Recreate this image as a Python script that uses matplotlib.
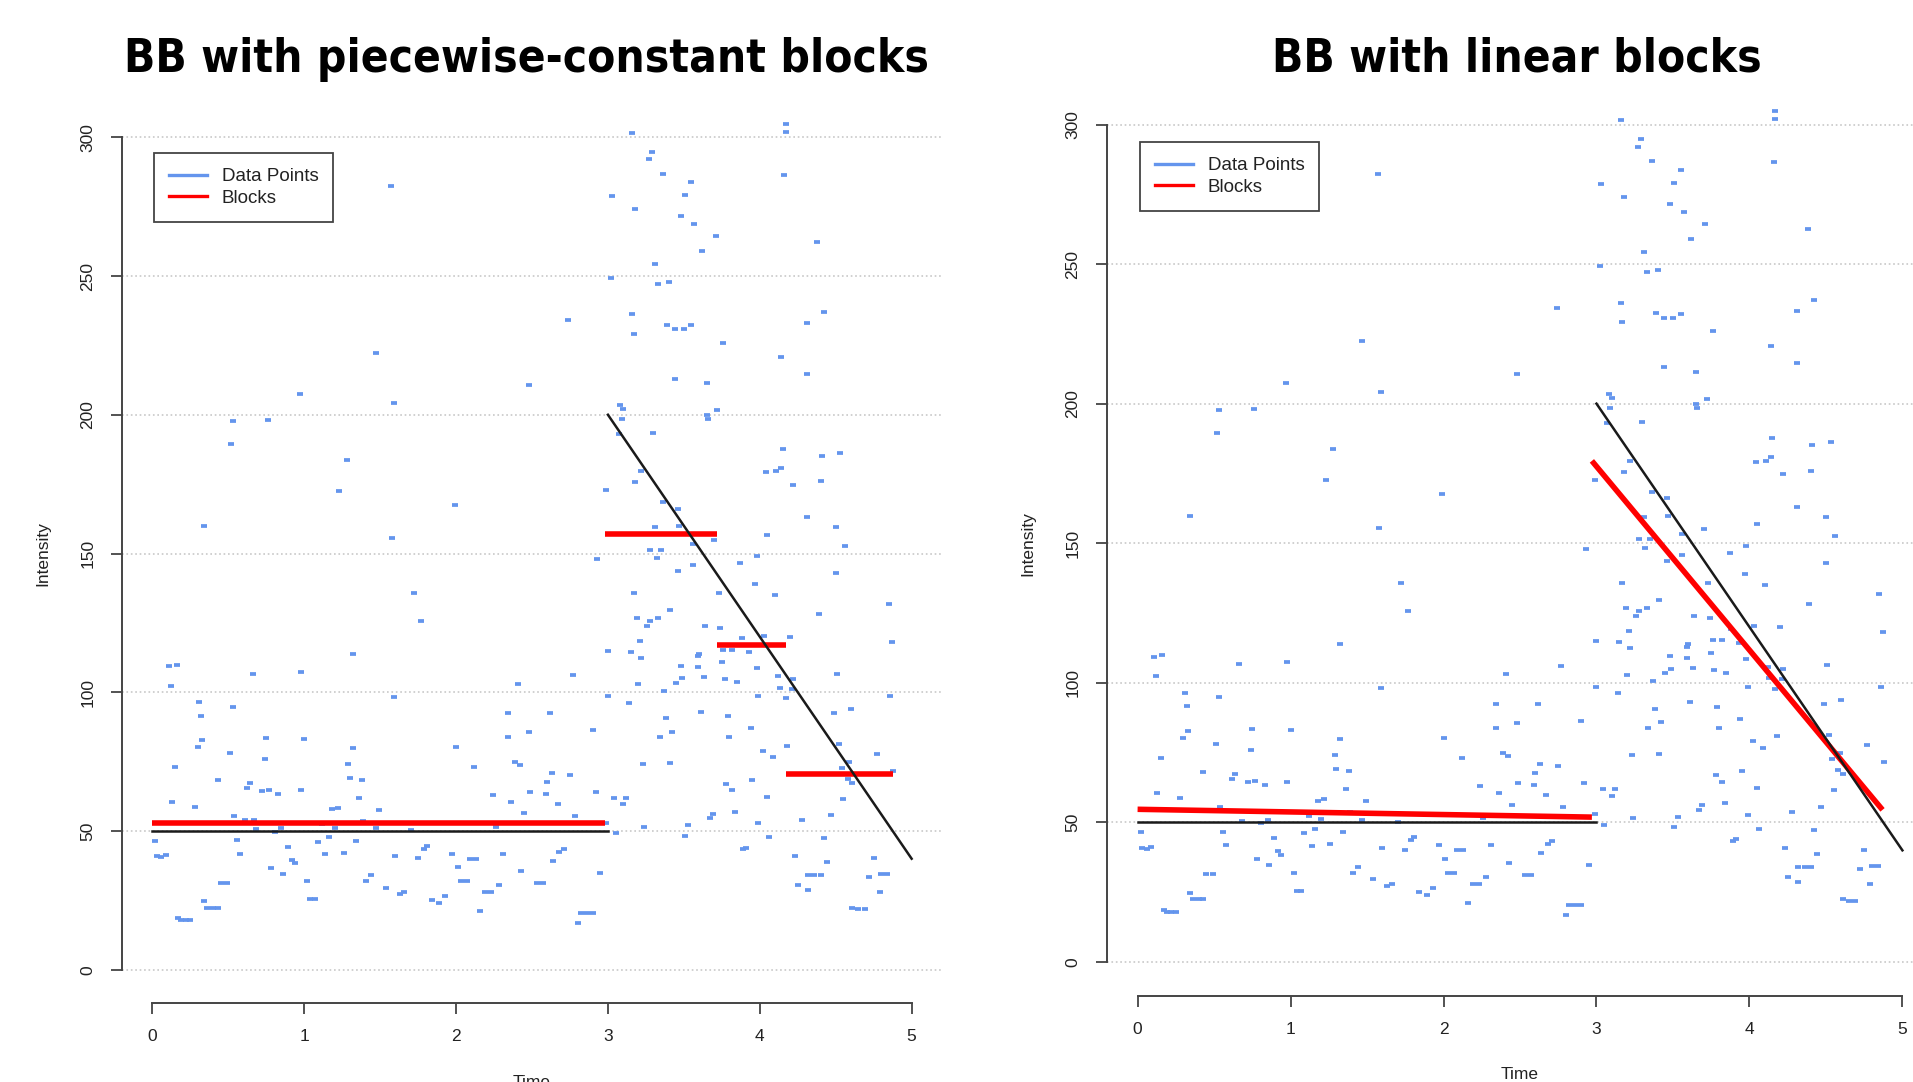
import matplotlib
matplotlib.use("Agg")
import matplotlib.pyplot as plt
from matplotlib.lines import Line2D
from matplotlib import font_manager

plt.rcParams['font.family'] = ['Liberation Sans', 'DejaVu Sans']

# data points, one pair of lists per time unit
time_0 = [0.02, 0.03, 0.06, 0.09, 0.11, 0.12, 0.13, 0.15, 0.16, 0.17,
          0.19, 0.22, 0.25, 0.28, 0.30, 0.31, 0.32, 0.33, 0.34, 0.34,
          0.36, 0.40, 0.43, 0.43, 0.45, 0.49, 0.51, 0.52, 0.53, 0.53,
          0.54, 0.56, 0.58, 0.61, 0.62, 0.64, 0.66, 0.67, 0.68, 0.72,
          0.74, 0.75, 0.76, 0.77, 0.78, 0.81, 0.83, 0.85, 0.86, 0.89,
          0.92, 0.94, 0.97, 0.98, 0.98]
vals_0 = [46.4, 41.0, 40.6, 41.2, 109.4, 102.4, 60.6, 73.2, 109.8, 18.8,
          18.0, 18.0, 18.0, 58.8, 80.2, 96.4, 91.6, 82.8, 24.6, 159.8,
          22.4, 22.4, 22.4, 68.2, 31.4, 31.4, 78.0, 189.4, 197.8, 94.8,
          55.4, 46.6, 41.8, 54.0, 65.4, 67.2, 106.6, 54.0, 50.6, 64.4,
          75.8, 83.6, 198.0, 64.8, 36.8, 49.8, 63.4, 51.0, 34.6, 44.4,
          39.6, 38.4, 207.4, 107.4, 64.6]

time_1 = [1.00, 1.02, 1.04, 1.07, 1.09, 1.12, 1.14, 1.16, 1.18, 1.20,
          1.22, 1.23, 1.26, 1.28, 1.29, 1.30, 1.32, 1.32, 1.34, 1.36,
          1.38, 1.39, 1.41, 1.44, 1.47, 1.47, 1.49, 1.54, 1.57, 1.58,
          1.59, 1.59, 1.60, 1.63, 1.66, 1.70, 1.72, 1.75, 1.77, 1.79,
          1.81, 1.84, 1.89, 1.93, 1.97, 1.99]
vals_1 = [83.2, 32.0, 25.6, 25.6, 46.2, 52.4, 41.6, 47.8, 57.8, 51.2,
          58.4, 172.6, 42.2, 183.6, 74.2, 69.0, 113.8, 80.0, 46.4, 61.8,
          68.4, 53.6, 32.0, 34.2, 222.4, 51.0, 57.6, 29.6, 282.4, 155.6,
          204.2, 98.2, 40.8, 27.4, 28.0, 50.2, 135.8, 40.2, 125.6, 43.6,
          44.6, 25.0, 24.0, 26.4, 41.8, 167.6]

time_2 = [2.00, 2.01, 2.03, 2.07, 2.09, 2.13, 2.12, 2.16, 2.19, 2.23,
          2.24, 2.26, 2.28, 2.31, 2.34, 2.34, 2.36, 2.39, 2.41, 2.42,
          2.43, 2.45, 2.48, 2.48, 2.49, 2.53, 2.57, 2.59, 2.60, 2.62,
          2.63, 2.64, 2.67, 2.68, 2.71, 2.74, 2.75, 2.77, 2.78, 2.80,
          2.82, 2.86, 2.90, 2.90, 2.92, 2.93, 2.95, 2.99, 2.99]
vals_2 = [80.4, 37.0, 32.0, 32.0, 40.0, 40.0, 73.2, 21.0, 28.0, 28.0,
          63.0, 51.6, 30.6, 41.8, 83.8, 92.4, 60.6, 75.0, 103.0, 73.8,
          35.6, 56.4, 210.6, 85.6, 64.2, 31.2, 31.2, 63.4, 67.6, 92.4,
          71.0, 39.2, 59.8, 42.4, 43.4, 234.2, 70.2, 106.2, 55.4, 17.0,
          20.4, 20.4, 20.4, 86.4, 64.0, 148.0, 34.8, 53.0, 172.8]

time_3 = [3.00, 3.00, 3.02, 3.03, 3.04, 3.05, 3.07, 3.08, 3.09, 3.10,
          3.10, 3.12, 3.14, 3.15, 3.16, 3.16, 3.17, 3.17, 3.18, 3.18,
          3.19, 3.20, 3.21, 3.22, 3.22, 3.23, 3.24, 3.26, 3.27, 3.28,
          3.28, 3.29, 3.30, 3.31, 3.31, 3.32, 3.33, 3.33, 3.34, 3.35,
          3.36, 3.36, 3.37, 3.38, 3.39, 3.40, 3.41, 3.41, 3.42, 3.44,
          3.44, 3.45, 3.46, 3.46, 3.47, 3.48, 3.48, 3.49, 3.50, 3.51,
          3.51, 3.53, 3.55, 3.55, 3.56, 3.56, 3.57, 3.59, 3.59, 3.60,
          3.61, 3.62, 3.63, 3.64, 3.65, 3.65, 3.66, 3.67, 3.69, 3.70,
          3.71, 3.72, 3.73, 3.74, 3.75, 3.76, 3.76, 3.77, 3.78, 3.79,
          3.80, 3.82, 3.82, 3.84, 3.85, 3.87, 3.88, 3.89, 3.91, 3.93,
          3.94, 3.95, 3.97, 3.98, 3.98, 3.99, 3.99]
vals_3 = [115.0, 98.6, 249.2, 278.8, 61.8, 49.2, 193.0, 203.6, 198.6, 202.2,
          59.6, 61.8, 96.2, 114.6, 301.6, 236.2, 135.8, 229.2, 274.0, 175.6,
          126.8, 102.8, 118.6, 112.4, 179.6, 74.2, 51.6, 123.8, 292.0, 151.4,
          125.8, 294.8, 193.6, 254.2, 159.4, 148.4, 247.2, 126.8, 83.8, 151.4,
          286.8, 168.4, 100.6, 90.6, 232.4, 247.8, 129.8, 74.4, 85.8, 213.0,
          230.8, 103.4, 143.8, 166.2, 159.8, 271.6, 109.6, 105.0, 230.8, 279.2,
          48.2, 52.0, 283.8, 232.2, 153.4, 145.8, 268.6, 109.0, 113.0, 113.8,
          93.0, 259.0, 105.4, 123.8, 211.4, 200.0, 198.4, 54.6, 56.2, 155.0,
          264.4, 201.8, 135.8, 123.2, 110.8, 115.4, 226.0, 104.6, 67.0, 91.4,
          84.0, 115.4, 64.6, 56.8, 103.6, 146.6, 119.4, 43.4, 44.0, 114.4,
          87.2, 68.4, 139.0, 108.6, 149.0, 98.6, 52.8]

time_4 = [4.02, 4.03, 4.04, 4.05, 4.05, 4.06, 4.09, 4.10, 4.11, 4.12,
          4.13, 4.14, 4.14, 4.15, 4.16, 4.17, 4.17, 4.17, 4.18, 4.20,
          4.21, 4.22, 4.22, 4.23, 4.25, 4.28, 4.31, 4.31, 4.31, 4.32,
          4.32, 4.36, 4.40, 4.38, 4.39, 4.40, 4.41, 4.42, 4.42, 4.44,
          4.47, 4.49, 4.50, 4.50, 4.51, 4.52, 4.53, 4.54, 4.55, 4.56,
          4.58, 4.59, 4.60, 4.61, 4.61, 4.65, 4.69, 4.72, 4.75, 4.77,
          4.79, 4.80, 4.84, 4.85, 4.86, 4.87, 4.88]
vals_4 = [79.0, 120.4, 179.2, 156.8, 62.2, 47.8, 76.8, 135.0, 179.6, 105.8,
          101.6, 220.8, 180.8, 187.6, 286.4, 301.8, 304.8, 97.8, 80.8, 120.0,
          101.2, 174.8, 104.8, 40.8, 30.6, 53.8, 214.6, 233.2, 163.0, 28.8,
          34.2, 34.2, 34.2, 262.4, 128.2, 176.0, 185.2, 237.0, 47.4, 38.8,
          55.6, 92.4, 159.4, 143.0, 106.4, 81.2, 186.4, 72.8, 61.6, 152.6,
          68.8, 75.0, 93.8, 67.2, 22.4, 22.0, 22.0, 33.4, 40.2, 77.6,
          28.0, 34.4, 34.4, 131.8, 98.6, 118.2, 71.6]

time = time_0 + time_1 + time_2 + time_3 + time_4
intensity = vals_0 + vals_1 + vals_2 + vals_3 + vals_4

# true signal (black)
true_t = [[0, 3], [3, 5]]
true_v = [[50, 50], [200, 40]]

# piecewise-constant blocks
const_edges = [0, 2.98, 3.72, 4.17, 4.88]
const_levels = [53.0, 157.0, 117.0, 70.6]

# linear blocks
lin_t = [[0, 2.97], [2.97, 4.87]]
lin_v = [[54.7, 51.9], [179.5, 54.5]]

titles = ["BB with piecewise-constant blocks", "BB with linear blocks"]

blue = '#6495ED'
W, H = 1913, 1082
fig = plt.figure(figsize=(W / 100, H / 100), dpi=100)


def px_axes(left, top, right, bottom):
    return fig.add_axes([left / W, 1 - bottom / H, (right - left) / W, (bottom - top) / H])


def base_panel(ax, legend_xy):
    ax.set_xlim(-0.2, 5.2)
    ax.set_ylim(-12, 312)
    for s in ['top', 'right']:
        ax.spines[s].set_visible(False)
    for s in ['left', 'bottom']:
        ax.spines[s].set_color('#444444')
        ax.spines[s].set_linewidth(1.4)
    ax.spines['left'].set_bounds(0, 300)
    ax.spines['bottom'].set_bounds(0, 5)
    ax.set_xticks(range(6))
    ax.set_yticks(range(0, 301, 50))
    ax.tick_params(direction='out', length=8, width=1.3, color='#444444',
                   pad=11, labelsize=12.5, labelcolor='#222222')
    ax.tick_params(axis='y', labelrotation=90)
    for lab in ax.get_yticklabels():
        lab.set_va('center')
    ax.set_axisbelow(True)
    ax.yaxis.grid(True, ls=':', color='#c8c8c8', lw=1.2)
    ax.set_xlabel('Time', fontsize=12.5, labelpad=22, color='#222222')
    ax.set_ylabel('Intensity', fontsize=12.5, labelpad=22, color='#222222')

    ax.plot(time, intensity, ls='none', marker='_', ms=4.5, mew=2.7, color=blue, zorder=2)

    handles = [Line2D([], [], color=blue, lw=2.4), Line2D([], [], color='red', lw=2.4)]
    leg = ax.legend(handles, ['Data Points', 'Blocks'], loc='upper left',
                    bbox_to_anchor=(legend_xy[0] / W, 1 - legend_xy[1] / H),
                    bbox_transform=fig.transFigure, borderaxespad=0,
                    fancybox=False, framealpha=1, edgecolor='#444444',
                    fontsize=13.5, handlelength=2.0, handletextpad=0.8,
                    labelspacing=0.25, borderpad=0.8)
    leg.get_frame().set_linewidth(1.3)
    for t in leg.get_texts():
        t.set_color('#222222')


# left panel
ax1 = px_axes(122, 104, 942, 1003)
base_panel(ax1, (154, 153))
ax1.hlines(const_levels, const_edges[:-1], const_edges[1:], color='red', lw=4, zorder=3)
for tt, vv in zip(true_t, true_v):
    ax1.plot(tt, vv, color='#1a1a1a', lw=1.8, zorder=4)

# right panel
ax2 = px_axes(1107, 91, 1933, 995.5)
base_panel(ax2, (1140, 142))
for tt, vv in zip(lin_t, lin_v):
    ax2.plot(tt, vv, color='red', lw=4, zorder=3, solid_capstyle='butt')
for tt, vv in zip(true_t, true_v):
    ax2.plot(tt, vv, color='#1a1a1a', lw=1.8, zorder=4)

# title font: a narrow / condensed bold face if one is installed
title_font = font_manager.FontProperties(family='Liberation Sans', weight='bold')
for f in font_manager.fontManager.ttflist:
    narrow = ('Narrow' in f.name or 'Condensed' in f.name
              or f.stretch in ('condensed', 'semi-condensed', 'extra-condensed'))
    if narrow and f.weight in (700, 'bold') and 'Mono' not in f.name and 'Serif' not in f.name:
        title_font = font_manager.FontProperties(fname=f.fname)
        break

# titles, sized so the left one spans about 802 px
t1 = fig.text(527 / W, 1 - 72 / H, titles[0], ha='center', va='baseline',
              fontproperties=title_font, fontsize=40)
t2 = fig.text(1517 / W, 1 - 72 / H, titles[1], ha='center', va='baseline',
              fontproperties=title_font, fontsize=40)
fig.canvas.draw()
w = t1.get_window_extent(fig.canvas.get_renderer()).width
size = 40 * 802 / w
t1.set_fontsize(size)
t2.set_fontsize(size)

fig.savefig('out.png', dpi=100)
